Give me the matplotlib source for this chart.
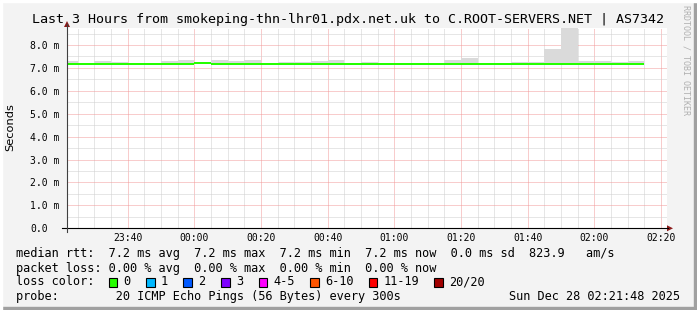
import matplotlib
matplotlib.use("Agg")
import matplotlib.pyplot as plt
from matplotlib.patches import Rectangle, Polygon
from matplotlib.lines import Line2D

# ---------------- data ----------------
interval_starts = ["23:20", "23:25", "23:30", "23:35", "23:40", "23:45", "23:50", "23:55",
                   "00:00", "00:05", "00:10", "00:15", "00:20", "00:25", "00:30", "00:35",
                   "00:40", "00:45", "00:50", "00:55", "01:00", "01:05", "01:10", "01:15",
                   "01:20", "01:25", "01:30", "01:35", "01:40", "01:45", "01:50", "01:55",
                   "02:00", "02:05", "02:10"]
# median rtt (milliseconds)
median_ms = [7.19, 7.19, 7.19, 7.19, 7.19, 7.19, 7.19, 7.19,
             7.23, 7.19, 7.19, 7.19, 7.19, 7.19, 7.19, 7.19,
             7.19, 7.19, 7.19, 7.19, 7.19, 7.19, 7.19, 7.19,
             7.19, 7.19, 7.19, 7.19, 7.19, 7.19, 7.19, 7.19,
             7.19, 7.19, 7.19]
# smoke upper edge (max ping, ms)
smoke_top_ms = [7.32, 7.21, 7.29, 7.26, 7.21, 7.21, 7.31, 7.35,
                7.25, 7.33, 7.29, 7.33, 7.21, 7.25, 7.25, 7.31,
                7.35, 7.21, 7.26, 7.21, 7.21, 7.21, 7.21, 7.35,
                7.45, 7.21, 7.21, 7.25, 7.25, 7.83, 8.90, 7.31,
                7.31, 7.26, 7.31]
# smoke lower edge (min ping, ms)
smoke_bot_ms = [7.16] * 35

x_tick_labels = ["23:40", "00:00", "00:20", "00:40", "01:00", "01:20", "01:40", "02:00", "02:20"]
y_tick_values = [0, 1, 2, 3, 4, 5, 6, 7, 8]
y_tick_labels = ["0.0", "1.0 m", "2.0 m", "3.0 m", "4.0 m", "5.0 m", "6.0 m", "7.0 m", "8.0 m"]

loss_labels = ["0", "1", "2", "3", "4-5", "6-10", "11-19", "20/20"]
loss_colors = ["#26ff00", "#00b8ff", "#0059ff", "#7e00ff", "#ff00ff", "#ff5500", "#ff0000", "#a10000"]

title = "Last 3 Hours from smokeping-thn-lhr01.pdx.net.uk to C.ROOT-SERVERS.NET | AS7342"
legend_rtt = "median rtt:  7.2 ms avg  7.2 ms max  7.2 ms min  7.2 ms now  0.0 ms sd  823.9   am/s"
legend_loss = "packet loss: 0.00 % avg  0.00 % max  0.00 % min  0.00 % now"
legend_color = "loss color:"
legend_probe = "probe:        20 ICMP Echo Pings (56 Bytes) every 300s"
date_text = "Sun Dec 28 02:21:48 2025"

# ---------------- helpers ----------------
def to_min(s):
    h, m = map(int, s.split(":"))
    if h >= 12:
        return (h - 23) * 60 + m
    return 60 + h * 60 + m   # after midnight, minutes since 23:00

x_start = 21.8   # 23:21:48
x_end = 201.8    # 02:21:48

W, H = 697, 310
def fx(x):
    return x / W
def fy(y):
    return 1 - y / H

BG = "#f3f3f3"
MONO = "DejaVu Sans Mono"

fig = plt.figure(figsize=(W / 100, H / 100), dpi=100, facecolor=BG)

# frame shading
fig.add_artist(Rectangle((0, 0), 1, 3 / H, transform=fig.transFigure, color="#a0a0a0", zorder=0))
fig.add_artist(Rectangle((1 - 3 / W, 0), 3 / W, 1, transform=fig.transFigure, color="#a0a0a0", zorder=0))
fig.add_artist(Rectangle((0, 1 - 2 / H), 1, 2 / H, transform=fig.transFigure, color="#ffffff", zorder=0))
fig.add_artist(Rectangle((0, 0), 2 / W, 1, transform=fig.transFigure, color="#ffffff", zorder=0))

ax_l, ax_r, ax_t, ax_b = 67, 667, 28.3, 228.3
ax = fig.add_axes([fx(ax_l), fy(ax_b), (ax_r - ax_l) / W, (ax_b - ax_t) / H])
ax.set_facecolor("white")
ax.set_xlim(x_start, x_end)
ax.set_ylim(0, 8.73)
for sp in ax.spines.values():
    sp.set_visible(False)

# grid
major_x = [to_min(s) for s in x_tick_labels]
minor_x = [m for m in range(25, 201, 5) if m % 20 != 0]
ax.set_xticks(major_x)
ax.set_xticklabels(x_tick_labels, family=MONO, fontsize=7)
ax.set_xticks(minor_x, minor=True)
ax.set_yticks(y_tick_values)
ax.set_yticklabels(y_tick_labels, family=MONO, fontsize=7, ha="left")
ax.set_yticks([v + 0.5 for v in y_tick_values], minor=True)
ax.tick_params(axis="both", which="both", length=0)
ax.tick_params(axis="y", pad=37 * 0.72)
ax.tick_params(axis="x", pad=3.5)
ax.grid(which="minor", color="#cfcfcf", linestyle=(0, (1, 1)), linewidth=0.72, zorder=0)
ax.grid(which="major", color="#f29a9a", linestyle=(0, (1, 1)), linewidth=0.72, zorder=0)
ax.set_axisbelow(True)

# smoke
starts = [to_min(s) for s in interval_starts]
heights = [t - b for t, b in zip(smoke_top_ms, smoke_bot_ms)]
ax.bar(starts, heights, width=5, bottom=smoke_bot_ms, align="edge", color="#dadada",
       linewidth=0, zorder=2)

# median line
for s, m in zip(starts, median_ms):
    ax.plot([max(s, x_start), s + 5], [m, m], color=loss_colors[0], linewidth=2 * 0.72,
            solid_capstyle="butt", zorder=3)

# axes lines + arrows
axis_col = "#404040"
fig.add_artist(Line2D([fx(62), fx(668)], [fy(ax_b), fy(ax_b)], color="#000000", linewidth=0.8))
fig.add_artist(Line2D([fx(ax_l), fx(ax_l)], [fy(ax_b + 4), fy(24)], color=axis_col, linewidth=0.8))
fig.add_artist(Polygon([[fx(667), fy(ax_b - 3)], [fx(673), fy(ax_b)], [fx(667), fy(ax_b + 3)]],
                       closed=True, transform=fig.transFigure, color="#8b1a1a", linewidth=0))
fig.add_artist(Polygon([[fx(ax_l - 3), fy(27)], [fx(ax_l), fy(21)], [fx(ax_l + 3), fy(27)]],
                       closed=True, transform=fig.transFigure, color="#8b1a1a", linewidth=0))

# texts
fig.text(fx(348), fy(19), title, family=MONO, fontsize=9.6, ha="center", va="center", color="#000000")
fig.text(fx(10), fy(127.5), "Seconds", family="DejaVu Sans", fontsize=8.2, rotation=90,
         ha="center", va="center")
fig.text(fx(686), fy(5), "RRDTOOL / TOBI OETIKER", family=MONO, fontsize=6, rotation=270,
         ha="center", va="top", color="#b0b0b0")

fs_leg = 8.55
fig.text(fx(16), fy(254), legend_rtt, family=MONO, fontsize=fs_leg, va="center")
fig.text(fx(16), fy(268.3), legend_loss, family=MONO, fontsize=fs_leg, va="center")
fig.text(fx(16), fy(281.7), legend_color, family=MONO, fontsize=fs_leg, va="center")
fig.text(fx(16), fy(296.7), legend_probe, family=MONO, fontsize=fs_leg, va="center")
fig.text(fx(680), fy(296.7), date_text, family=MONO, fontsize=fs_leg, va="center", ha="right")

char_w = 7.02
bx = 108.5
for lab, col in zip(loss_labels, loss_colors):
    fig.add_artist(Rectangle((fx(bx), fy(286.5)), 8.5 / W, 9 / H, transform=fig.transFigure,
                             facecolor=col, edgecolor="black", linewidth=0.8))
    fig.text(fx(bx + 15), fy(281.7), lab, family=MONO, fontsize=fs_leg, va="center")
    bx += 37.5 + (len(lab) - 1) * char_w

fig.savefig("out.png", dpi=100, facecolor=BG)
